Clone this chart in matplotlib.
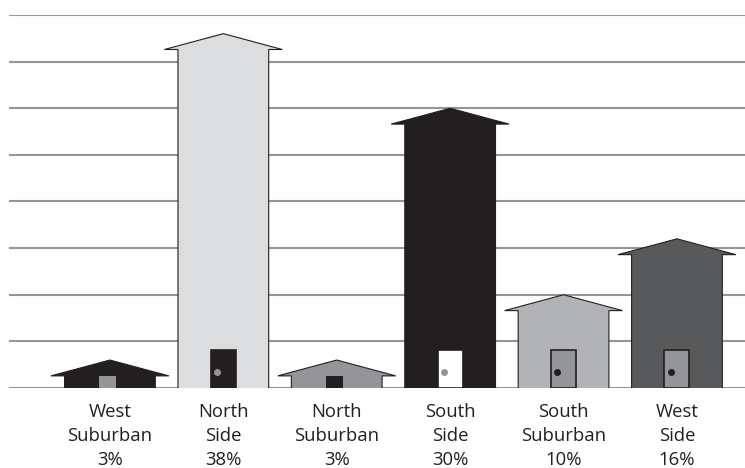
import matplotlib
matplotlib.use("Agg")
import matplotlib.pyplot as plt
from matplotlib.patches import Polygon, Rectangle, Circle

# ---- data ----
categories = ["West\nSuburban", "North\nSide", "North\nSuburban", "South\nSide", "South\nSuburban", "West\nSide"]
values = [3, 38, 3, 30, 10, 16]
grid_ticks = [0, 5, 10, 15, 20, 25, 30, 35, 40]

# ---- styles ----
house_colors = ["#231f20", "#dcdddf", "#939598", "#231f20", "#b1b3b6", "#58595b"]
door_fill = ["#939598", "#231f20", "#231f20", "#ffffff", "#939598", "#939598"]
door_edge = [None, None, None, "#231f20", "#231f20", "#231f20"]
knob_color = [None, "#939598", None, "#939598", "#231f20", "#231f20"]
dark = "#231f20"

W, H = 745, 468
fig = plt.figure(figsize=(W / 100, H / 100), dpi=100)
ax = fig.add_axes([9 / W, (H - 388) / H, (W - 9) / W, 373 / H])
ax.set_xlim(-0.89, 5.6)
ax.set_ylim(0, 40)
ax.axis("off")

for t in grid_ticks:
    ax.axhline(t, color="#939598", lw=1.5, zorder=1)

wall_half = 0.40
roof_half = 0.52
roof_h = 1.7
door_w = 0.22
door_h = 4.1
win_w = 0.15
win_h = 1.3

for i, v in enumerate(values):
    c = i
    eave = v - roof_h
    pts = [(c - wall_half, 0), (c - wall_half, eave), (c - roof_half, eave), (c, v),
           (c + roof_half, eave), (c + wall_half, eave), (c + wall_half, 0)]
    ax.add_patch(Polygon(pts, closed=False, facecolor=house_colors[i], edgecolor=dark,
                         lw=0.8, zorder=2, joinstyle="miter"))
    if v >= 10:
        ec = door_edge[i] if door_edge[i] else door_fill[i]
        ax.add_patch(Rectangle((c - door_w / 2, 0), door_w, door_h, facecolor=door_fill[i],
                               edgecolor=ec, lw=1.2, zorder=3))
        ax.plot([c - door_w / 2 + 0.055], [1.7], "o", ms=4, color=knob_color[i], zorder=4)
    else:
        ax.add_patch(Rectangle((c - win_w / 2 - 0.02, 0), win_w, win_h, facecolor=door_fill[i],
                               edgecolor="none", zorder=3))

    lines = categories[i].split("\n") + [f"{v}%"]
    for j, s in enumerate(lines):
        py = 417 + 24 * j
        ax.text(c, (388 - py) / 373, s, transform=ax.get_xaxis_transform(), ha="center",
                va="baseline", fontsize=13.3, color=dark, family="Open Sans")

fig.savefig("out.png", dpi=100)
